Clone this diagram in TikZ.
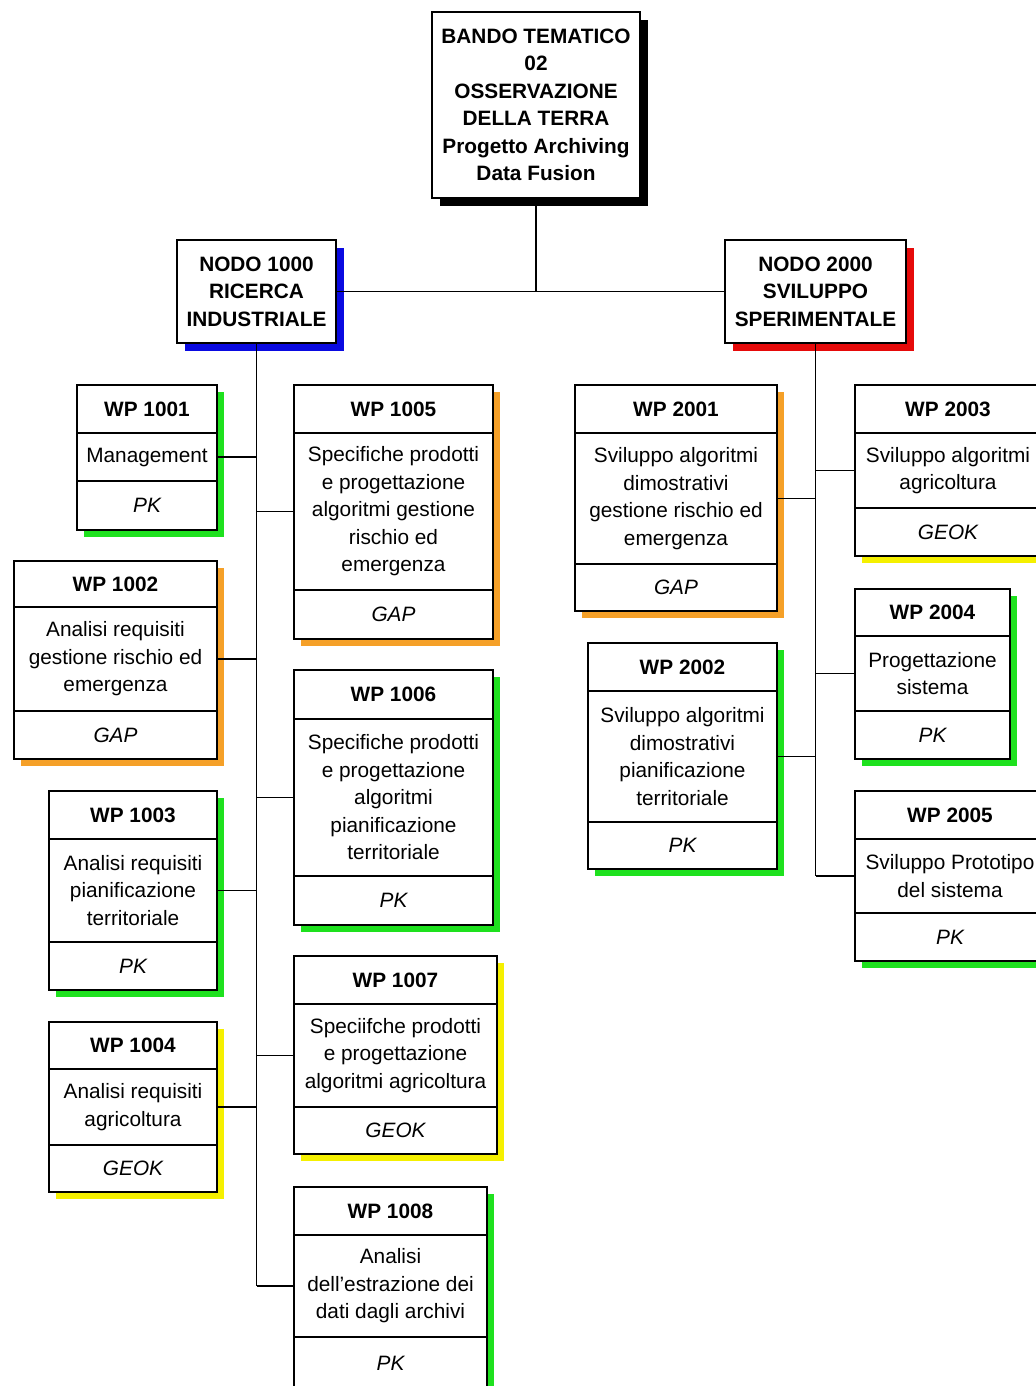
\documentclass[tikz,border=0pt]{standalone}
\usepackage{fontspec}
\setmainfont{Liberation Sans}
\usetikzlibrary{backgrounds}
\definecolor{wpgreen}{RGB}{30,225,30}
\definecolor{wporange}{RGB}{245,160,40}
\definecolor{wpyellow}{RGB}{245,240,0}
\definecolor{nodoblue}{RGB}{10,10,225}
\definecolor{nodored}{RGB}{230,10,10}
\tikzset{
 boxw/.style={minimum width=#1*0.5pt},
 boxh/.style={minimum height=#1*0.5pt},
 wpbox/.style={draw, line width=1pt, fill=white, inner sep=0pt, outer sep=0pt, align=center, anchor=north west, font=\fontsize{10.4}{13.75}\selectfont},
 wptitle/.style={wpbox, font=\fontsize{10.4}{13.75}\selectfont\bfseries},
 wpcode/.style={wpbox, font=\fontsize{10.4}{13.75}\selectfont\itshape},
 link/.style={line width=0.8pt},
}
\begin{document}
\begin{tikzpicture}[x=0.5pt,y=-0.5pt]
 \useasboundingbox (0,0) rectangle (1036,1386);
 % head boxes
 \node[wptitle, boxw=208, boxh=186] (top) at (432,12) {BANDO TEMATICO\\02\\OSSERVAZIONE\\DELLA TERRA\\Progetto Archiving\\Data Fusion};
 \node[wptitle, boxw=159, boxh=103] (nodo1) at (177,240) {NODO 1000\\RICERCA\\INDUSTRIALE};
 \node[wptitle, boxw=181, boxh=103] (nodo2) at (725,240) {NODO 2000\\SVILUPPO\\SPERIMENTALE};
 % nodo 1000
 \node[wptitle, boxw=140, boxh=48] (t1001) at (77,385) {WP 1001};
 \node[wpbox, boxw=140, boxh=48] (d1001) at (t1001.south west) {Management};
 \node[wpcode, boxw=140, boxh=49] (c1001) at (d1001.south west) {PK};
 \node[wptitle, boxw=203, boxh=46] (t1002) at (14,561) {WP 1002};
 \node[wpbox, boxw=203, boxh=104] (d1002) at (t1002.south west) {Analisi requisiti\\gestione rischio ed\\emergenza};
 \node[wpcode, boxw=203, boxh=48] (c1002) at (d1002.south west) {GAP};
 \node[wptitle, boxw=168, boxh=48] (t1003) at (49,791) {WP 1003};
 \node[wpbox, boxw=168, boxh=103] (d1003) at (t1003.south west) {Analisi requisiti\\pianificazione\\territoriale};
 \node[wpcode, boxw=168, boxh=48] (c1003) at (d1003.south west) {PK};
 \node[wptitle, boxw=168, boxh=47] (t1004) at (49,1022) {WP 1004};
 \node[wpbox, boxw=168, boxh=76] (d1004) at (t1004.south west) {Analisi requisiti\\agricoltura};
 \node[wpcode, boxw=168, boxh=47] (c1004) at (d1004.south west) {GEOK};
 \node[wptitle, boxw=199, boxh=48] (t1005) at (294,385) {WP 1005};
 \node[wpbox, boxw=199, boxh=157] (d1005) at (t1005.south west) {Specifiche prodotti\\e progettazione\\algoritmi gestione\\rischio ed\\emergenza};
 \node[wpcode, boxw=199, boxh=49] (c1005) at (d1005.south west) {GAP};
 \node[wptitle, boxw=199, boxh=49] (t1006) at (294,670) {WP 1006};
 \node[wpbox, boxw=199, boxh=157] (d1006) at (t1006.south west) {Specifiche prodotti\\e progettazione\\algoritmi\\pianificazione\\territoriale};
 \node[wpcode, boxw=199, boxh=49] (c1006) at (d1006.south west) {PK};
 \node[wptitle, boxw=203, boxh=48] (t1007) at (294,956) {WP 1007};
 \node[wpbox, boxw=203, boxh=103] (d1007) at (t1007.south west) {Speciifche prodotti\\e progettazione\\algoritmi agricoltura};
 \node[wpcode, boxw=203, boxh=47] (c1007) at (d1007.south west) {GEOK};
 \node[wptitle, boxw=193, boxh=48] (t1008) at (294,1187) {WP 1008};
 \node[wpbox, boxw=193, boxh=102] (d1008) at (t1008.south west) {Analisi\\dell'estrazione dei\\dati dagli archivi};
 \node[wpcode, boxw=193, boxh=52] (c1008) at (d1008.south west) {PK};
 % nodo 2000
 \node[wptitle, boxw=202, boxh=48] (t2001) at (575,385) {WP 2001};
 \node[wpbox, boxw=202, boxh=131] (d2001) at (t2001.south west) {Sviluppo algoritmi\\dimostrativi\\gestione rischio ed\\emergenza};
 \node[wpcode, boxw=202, boxh=47] (c2001) at (d2001.south west) {GAP};
 \node[wptitle, boxw=189, boxh=48] (t2002) at (588,643) {WP 2002};
 \node[wpbox, boxw=189, boxh=131] (d2002) at (t2002.south west) {Sviluppo algoritmi\\dimostrativi\\pianificazione\\territoriale};
 \node[wpcode, boxw=189, boxh=47] (c2002) at (d2002.south west) {PK};
 \node[wptitle, boxw=186, boxh=48] (t2003) at (855,385) {WP 2003};
 \node[wpbox, boxw=186, boxh=75] (d2003) at (t2003.south west) {Sviluppo algoritmi\\agricoltura};
 \node[wpcode, boxw=186, boxh=48] (c2003) at (d2003.south west) {GEOK};
 \node[wptitle, boxw=155, boxh=47] (t2004) at (855,589) {WP 2004};
 \node[wpbox, boxw=155, boxh=75] (d2004) at (t2004.south west) {Progettazione\\sistema};
 \node[wpcode, boxw=155, boxh=48] (c2004) at (d2004.south west) {PK};
 \node[wptitle, boxw=190, boxh=48] (t2005) at (855,791) {WP 2005};
 \node[wpbox, boxw=190, boxh=74] (d2005) at (t2005.south west) {Sviluppo Prototipo\\del sistema};
 \node[wpcode, boxw=190, boxh=48] (c2005) at (d2005.south west) {PK};
 % connectors
 \draw[link] (top.south) -- (top.south |- nodo1.east);
 \draw[link] (nodo1.east) -- (nodo2.west);
 \draw[link] (nodo1.south) -- (nodo1.south |- d1008.west);
 \draw[link] (nodo2.south) -- (nodo2.south |- d2005.west);
 \draw[link] (d1001.east) -- (d1001.east -| nodo1.south);
 \draw[link] (d1002.east) -- (d1002.east -| nodo1.south);
 \draw[link] (d1003.east) -- (d1003.east -| nodo1.south);
 \draw[link] (d1004.east) -- (d1004.east -| nodo1.south);
 \draw[link] (d1005.west) -- (d1005.west -| nodo1.south);
 \draw[link] (d1006.west) -- (d1006.west -| nodo1.south);
 \draw[link] (d1007.west) -- (d1007.west -| nodo1.south);
 \draw[link] (d1008.west) -- (d1008.west -| nodo1.south);
 \draw[link] (d2001.east) -- (d2001.east -| nodo2.south);
 \draw[link] (d2002.east) -- (d2002.east -| nodo2.south);
 \draw[link] (d2003.west) -- (d2003.west -| nodo2.south);
 \draw[link] (d2004.west) -- (d2004.west -| nodo2.south);
 \draw[link] (d2005.west) -- (d2005.west -| nodo2.south);
 % shadows
 \begin{pgfonlayer}{background}
 \fill[black] ([shift={(8,8)}]top.north west) rectangle ([shift={(8,8)}]top.south east);
 \fill[nodoblue] ([shift={(8,8)}]nodo1.north west) rectangle ([shift={(8,8)}]nodo1.south east);
 \fill[nodored] ([shift={(8,8)}]nodo2.north west) rectangle ([shift={(8,8)}]nodo2.south east);
 \fill[wpgreen] ([shift={(7,7)}]t1001.north west) rectangle ([shift={(7,7)}]c1001.south east);
 \fill[wporange] ([shift={(7,7)}]t1002.north west) rectangle ([shift={(7,7)}]c1002.south east);
 \fill[wpgreen] ([shift={(7,7)}]t1003.north west) rectangle ([shift={(7,7)}]c1003.south east);
 \fill[wpyellow] ([shift={(7,7)}]t1004.north west) rectangle ([shift={(7,7)}]c1004.south east);
 \fill[wporange] ([shift={(7,7)}]t1005.north west) rectangle ([shift={(7,7)}]c1005.south east);
 \fill[wpgreen] ([shift={(7,7)}]t1006.north west) rectangle ([shift={(7,7)}]c1006.south east);
 \fill[wpyellow] ([shift={(7,7)}]t1007.north west) rectangle ([shift={(7,7)}]c1007.south east);
 \fill[wpgreen] ([shift={(7,7)}]t1008.north west) rectangle ([shift={(7,7)}]c1008.south east);
 \fill[wporange] ([shift={(7,7)}]t2001.north west) rectangle ([shift={(7,7)}]c2001.south east);
 \fill[wpgreen] ([shift={(7,7)}]t2002.north west) rectangle ([shift={(7,7)}]c2002.south east);
 \fill[wpyellow] ([shift={(7,7)}]t2003.north west) rectangle ([shift={(7,7)}]c2003.south east);
 \fill[wpgreen] ([shift={(7,7)}]t2004.north west) rectangle ([shift={(7,7)}]c2004.south east);
 \fill[wpgreen] ([shift={(7,7)}]t2005.north west) rectangle ([shift={(7,7)}]c2005.south east);
 \end{pgfonlayer}
\end{tikzpicture}
\end{document}
